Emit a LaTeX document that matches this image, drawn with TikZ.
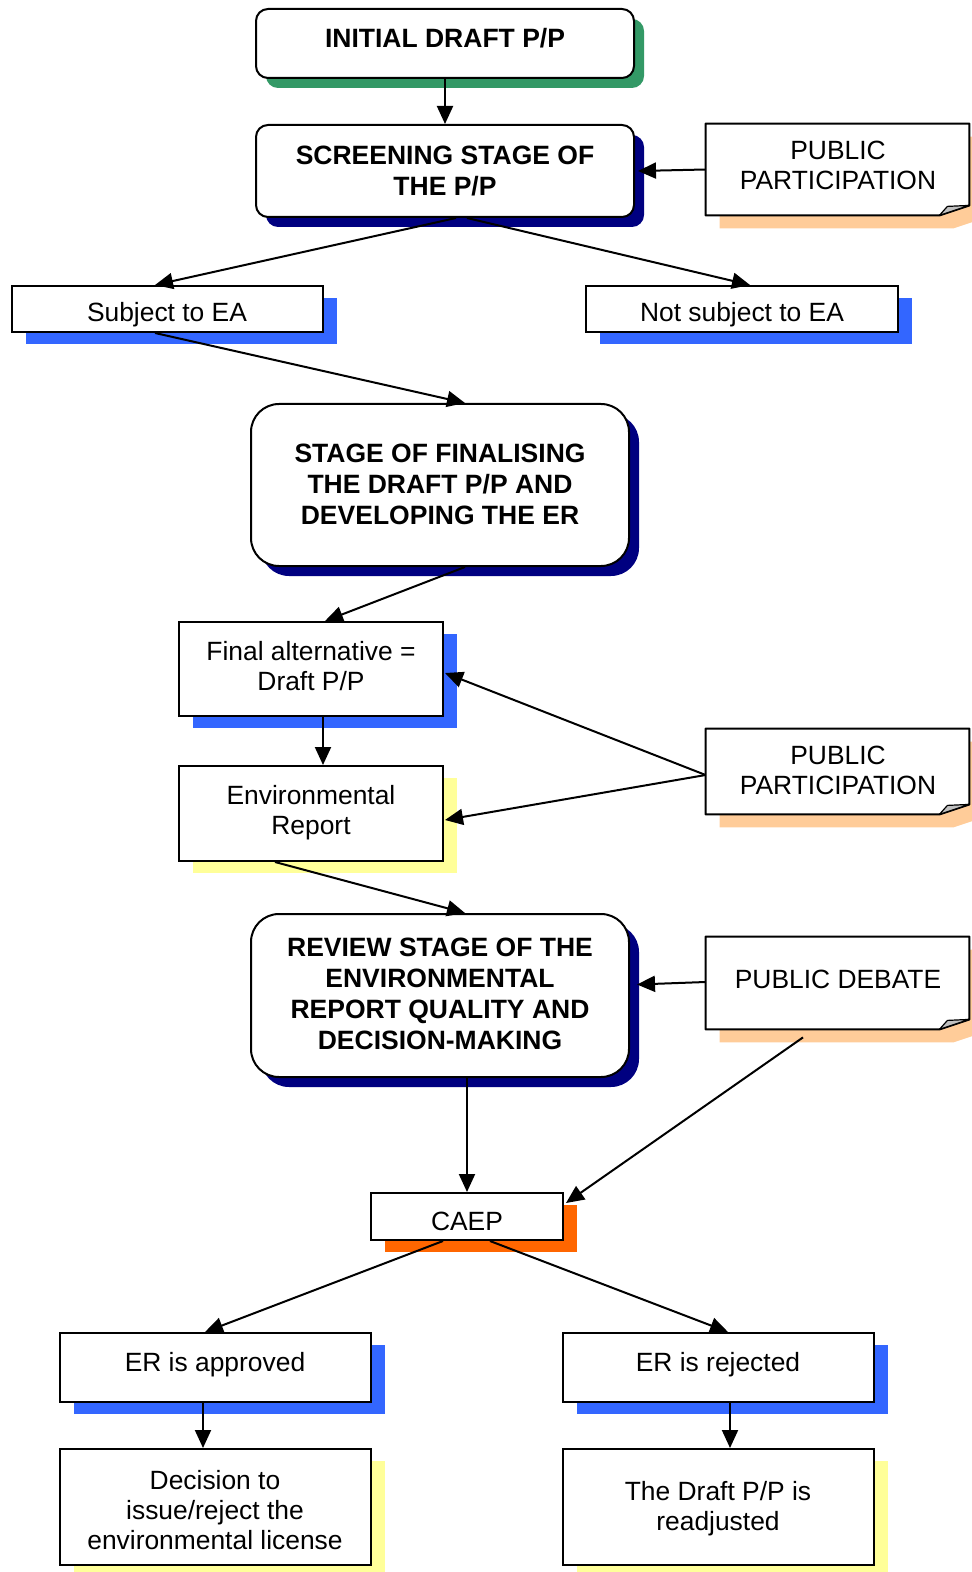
\documentclass[tikz,border=0pt]{standalone}
\usepackage{fontspec}
\setmainfont{Liberation Sans}
\usetikzlibrary{shadows,calc,arrows.meta}
\definecolor{sgreen}{HTML}{339966}
\definecolor{snavy}{HTML}{000080}
\definecolor{sblue}{HTML}{3366FF}
\definecolor{speach}{HTML}{FFCC99}
\definecolor{syellow}{HTML}{FFFF99}
\definecolor{sorange}{HTML}{FF6600}
\definecolor{sfold}{HTML}{C0C0C0}
\newcommand\mytop{\rule{0pt}{9.6pt}}
\newcommand\mybot{\rule[-3pt]{0pt}{3pt}}
\newcommand\ppdraw[1]{%
 \fill[speach] ($(#1.north west)+(14,13)$) -- ($(#1.north east)+(14,13)$) -- ($(#1.south east)+(14,3)$) -- ($(#1.south east)+(-16,13)$) -- ($(#1.south west)+(14,13)$) -- cycle;
 \draw[line width=1pt, fill=white, line join=round] (#1.north west) -- (#1.north east) -- ($(#1.south east)+(0,-10)$) -- ($(#1.south east)+(-30,0)$) -- (#1.south west) -- cycle;
 \draw[line width=0.6pt, fill=sfold, line join=round] ($(#1.south east)+(-30,0)$) -- ($(#1.south east)+(-22,-9)$) -- ($(#1.south east)+(0,-10)$) -- cycle;
}
\begin{document}
\begin{tikzpicture}[x=0.5pt,y=-0.5pt,
  box/.style={draw, line width=1pt, fill=white, inner sep=0pt},
  rboxs/.style={box, rounded corners=6pt},
  rboxl/.style={box, rounded corners=14pt},
  ppn/.style={inner sep=0pt, minimum width=131.5pt},
  sh/.style={general shadow={fill=#1, shadow xshift=5pt, shadow yshift=-5pt}},
  shr/.style={general shadow={fill=#1, shadow xshift=6.75pt, shadow yshift=-6pt}},
  txt/.style={align=center, inner sep=0pt, font=\fontsize{13.2}{15}\selectfont,
    execute at begin node=\mytop, execute at end node=\mybot, yshift=-1.5pt},
  btxt/.style={txt, font=\bfseries\fontsize{13.25}{15.5}\selectfont},
  arr/.style={-{Triangle[length=9pt,width=8pt]}, line width=1pt}]
\useasboundingbox (0,0) rectangle (971,1572);

% top
\node[rboxs, sh=sgreen, minimum width=189pt, minimum height=34.5pt] (init) at (445,43.5) {};
\node[btxt] (initT) at (445,37.5) {INITIAL DRAFT P/P};

\node[rboxs, sh=snavy, minimum width=189pt, minimum height=46pt] (screen) at (445,171) {};
\node[btxt] (screenT) at (445,171) {SCREENING STAGE OF\\THE P/P};

\node[ppn, minimum height=45.5pt] (pp1) at (837.5,169.5) {};
\ppdraw{pp1}
\node[txt] (pp1T) at (838,165) {PUBLIC\\PARTICIPATION};

\node[box, shr=sblue, minimum width=155.5pt, minimum height=23pt] (subj) at (167.5,309) {};
\node[txt] (subjT) at (167,312) {Subject to EA};

\node[box, shr=sblue, minimum width=156pt, minimum height=23pt] (notsubj) at (742,309) {};
\node[txt] (notsubjT) at (742,312) {Not subject to EA};

\node[rboxl, sh=snavy, minimum width=189pt, minimum height=81pt] (final) at (440,485) {};
\node[btxt] (finalT) at (440,484) {STAGE OF FINALISING\\THE DRAFT P/P AND\\DEVELOPING THE ER};

\node[box, shr=sblue, minimum width=132pt, minimum height=47pt] (falt) at (311,669) {};
\node[txt] (faltT) at (311,666) {Final alternative =\\Draft P/P};

\node[box, shr=syellow, minimum width=132pt, minimum height=47.5pt] (env) at (311,813.5) {};
\node[txt] (envT) at (311,810) {Environmental\\Report};

\node[ppn, minimum height=42.5pt] (pp2) at (837.5,771.5) {};
\ppdraw{pp2}
\node[txt] (pp2T) at (838,770) {PUBLIC\\PARTICIPATION};

\node[rboxl, sh=snavy, minimum width=189pt, minimum height=81.5pt] (review) at (440,995.5) {};
\node[btxt] (reviewT) at (440,993.5) {REVIEW STAGE OF THE\\ENVIRONMENTAL\\REPORT QUALITY AND\\DECISION-MAKING};

\node[ppn, minimum height=46pt] (debate) at (837.5,983) {};
\ppdraw{debate}
\node[txt] (debateT) at (838,979) {PUBLIC DEBATE};

\node[box, shr=sorange, minimum width=96pt, minimum height=23.5pt] (caep) at (467,1216.5) {};
\node[txt] (caepT) at (467,1221) {CAEP};

\node[box, shr=sblue, minimum width=155.5pt, minimum height=34.5pt] (appr) at (215.5,1367.5) {};
\node[txt] (apprT) at (215,1362) {ER is approved};

\node[box, shr=sblue, minimum width=155.5pt, minimum height=34.5pt] (rej) at (718.5,1367.5) {};
\node[txt] (rejT) at (718,1362) {ER is rejected};

\node[box, shr=syellow, minimum width=155.5pt, minimum height=58pt] (dec) at (215.5,1507) {};
\node[txt] (decT) at (215,1510) {Decision to\\issue/reject the\\environmental license};

\node[box, shr=syellow, minimum width=155.5pt, minimum height=58pt] (readj) at (718.5,1507) {};
\node[txt] (readjT) at (718,1506) {The Draft P/P is\\readjusted};

% connectors
\draw[arr] (init.south) -- (screen.north);
\draw[arr] (pp1.west) -- ($(screen.east)+(3,0)$);
\draw[arr] ($(screen.south)+(11,0)$) -- ($(subj.north)+(-12.5,0)$);
\draw[arr] ($(screen.south)+(22,0)$) -- ($(notsubj.north)+(8,0)$);
\draw[arr] ($(subj.south)+(-12.5,0)$) -- ($(final.north)+(25,0)$);
\draw[arr] ($(final.south)+(25,0)$) -- ($(falt.north)+(14,0)$);
\draw[arr] ($(falt.south)+(12,0)$) -- ($(env.north)+(12,0)$);
\draw[arr] ($(pp2.west)+(0,3.5)$) -- ($(falt.east)+(1,4)$);
\draw[arr] ($(pp2.west)+(0,3.5)$) -- ($(env.east)+(1,6.5)$);
\draw[arr] ($(env.south)+(-36,0)$) -- ($(review.north)+(25,0)$);
\draw[arr] ($(debate.west)+(0,-1)$) -- ($(review.east)+(7,-11)$);
\draw[arr] ($(review.south)+(27,0)$) -- (caep.north);
\draw[arr] ($(debate.south)+(-34.5,8)$) -- ($(caep.north east)+(2,11)$);
\draw[arr] ($(caep.south)+(-24,0)$) -- ($(appr.north)+(-10.5,0)$);
\draw[arr] ($(caep.south)+(23,0)$) -- ($(rej.north)+(9.5,0)$);
\draw[arr] ($(appr.south)+(-12.5,0)$) -- ($(dec.north)+(-12.5,0)$);
\draw[arr] ($(rej.south)+(11.5,0)$) -- ($(readj.north)+(11.5,0)$);
\end{tikzpicture}
\end{document}
